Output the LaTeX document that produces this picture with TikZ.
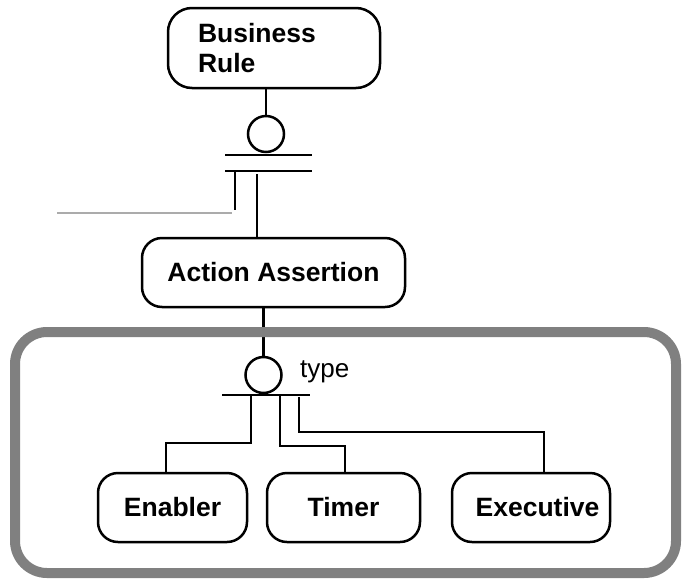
\documentclass[tikz,border=0pt]{standalone}
\usepackage{fontspec}
\setmainfont{Liberation Sans}
\usetikzlibrary{calc}
\begin{document}
\begin{tikzpicture}[x=1pt,y=-1pt,
  box/.style={draw, line width=2.5pt, rounded corners=20pt, inner sep=0pt,
    font=\fontsize{26.5}{30}\selectfont\bfseries, align=center},
  wire/.style={line width=2.5pt},
  faint/.style={line width=2pt, draw=black!33},
  ring/.style={draw, circle, line width=2.5pt, minimum size=36pt, inner sep=0pt},
  frame/.style={draw=black!50, line width=10pt, rounded corners=32pt}]
\useasboundingbox (0,0) rectangle (683,579);

% entity boxes
\node[box, minimum width=212pt, minimum height=80pt, text width=152pt,
      align=left, rounded corners=24pt] (br) at (274,48) {Business\\Rule};
\node[box, minimum width=263pt, minimum height=69pt] (aa) at (273.5,272.5) {Action Assertion};
\node[box, minimum width=149pt, minimum height=69pt] (en) at (172.5,507.5) {Enabler};
\node[box, minimum width=153pt, minimum height=69pt] (ti) at (343.5,507.5) {Timer};
\node[box, minimum width=158pt, minimum height=69pt] (ex) at (531,507.5) {\hspace*{13pt}Executive};

% upper subtype junction
\node[ring] (c1) at (266,134) {};
\coordinate (b1l) at (225,155);
\coordinate (b1r) at (312,155);
\coordinate (b2l) at (225,171);
\coordinate (b2r) at (312,171);
\coordinate (t1) at (235,171);
\coordinate (t1e) at (235,210);
\coordinate (t2) at (257,174);
\coordinate (ext) at (57,213);
\coordinate (exte) at (232,213);

\draw[wire] (br.south -| c1) -- (c1.north);
\draw[wire] (b1l) -- (b1r);
\draw[wire] (b2l) -- (b2r);
\draw[wire] (t1) -- (t1e);
\draw[faint] (ext) -- (exte);
\draw[wire] (t2) -- (aa.north -| t2);

% lower subtype junction
\node[ring] (c2) at (263.5,375) {};
\node[font=\fontsize{26}{30}\selectfont, anchor=base west, inner sep=0pt] (ty) at (300,377) {type};
\coordinate (b3l) at (222,395);
\coordinate (b3r) at (310,395);
\coordinate (s1) at (251,395);
\coordinate (s2) at (280,395);
\coordinate (s3) at (299,397);

\draw[wire] (aa.south -| c2) -- (c2.north);
\draw[wire] (b3l) -- (b3r);
\draw[wire] (s1) |- (166,443) -- ([xshift=-6.5pt]en.north);
\draw[wire] (s2) |- (345,446) -- ([xshift=1.5pt]ti.north);
\draw[wire] (s3) |- (544,432) -- ([xshift=13pt]ex.north);

% grouping frame
\draw[frame] (15,332) rectangle (676,573);
\end{tikzpicture}
\end{document}
